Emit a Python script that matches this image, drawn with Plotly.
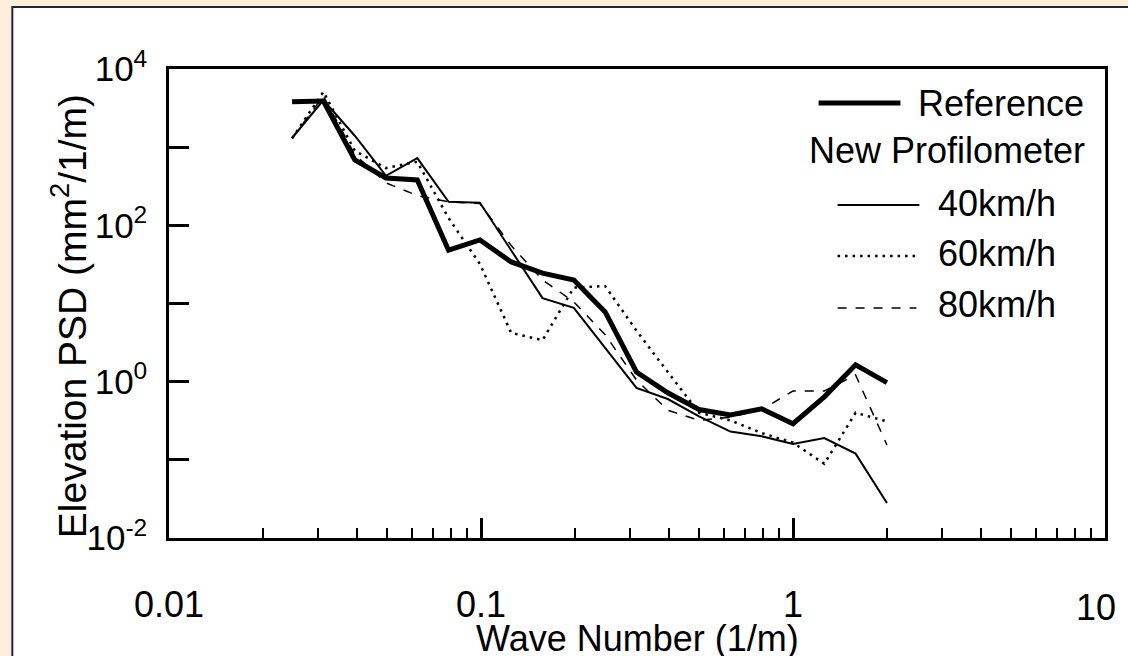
import plotly.graph_objects as go

# ---- data ----
wave_number = [0.0248, 0.03125, 0.0394, 0.0496, 0.0625, 0.0787, 0.0992, 0.125, 0.1575, 0.1984,
               0.25, 0.315, 0.3969, 0.5, 0.63, 0.7937, 1.0, 1.26, 1.587, 2.0]
psd_reference = [3800, 3900, 685, 404, 380, 48, 65, 34, 24.5, 20,
                 7.8, 1.33, 0.72, 0.44, 0.376, 0.45, 0.29, 0.64, 1.64, 0.97]
psd_40 = [1310, 4000, 1400, 430, 725, 200, 195, 48, 11.7, 8.8,
          2.7, 0.83, 0.6, 0.36, 0.23, 0.2, 0.16, 0.19, 0.12, 0.028]
psd_60 = [1300, 5100, 900, 540, 650, 124, 32, 4.2, 3.4, 16,
          16.7, 4.5, 1.33, 0.4, 0.32, 0.22, 0.166, 0.089, 0.4, 0.31]
psd_80 = [1300, 4500, 800, 350, 240, 200, 190, 55, 20, 10.5,
          4, 1.05, 0.43, 0.32, 0.35, 0.44, 0.76, 0.76, 1.22, 0.155]

x_tick_vals = [0.01, 0.1, 1]
x_tick_text = ["0.01", "0.1", "1"]
x_edge_label = "10"
x_minor_vals = [m * d for d in (0.01, 0.1, 1) for m in range(2, 10)]
y_tick_vals = [1e-2, 1e0, 1e2, 1e4]
y_tick_text = ["10<sup>-2</sup>", "10<sup>0</sup>", "10<sup>2</sup>", "10<sup>4</sup>"]
y_minor_vals = [1e-1, 1e1, 1e3]

FONT = "Liberation Sans, Arial, sans-serif"
W, H = 1120, 656
L, R, T, B = 169, 13, 69, 118
PW, PH = W - L - R, H - T - B


def px(xp):
    return (xp - L) / PW


def py(yp):
    return (H - B - yp) / PH


fig = go.Figure()
series = [
    ("Reference", psd_reference, dict(color="black", width=5)),
    ("40km/h", psd_40, dict(color="black", width=2)),
    ("60km/h", psd_60, dict(color="black", width=2.5, dash="2.5px,5px")),
    ("80km/h", psd_80, dict(color="black", width=1.5, dash="9px,9px")),
]
# thin lines first, thick reference on top
for name, ys, line in series[1:] + series[:1]:
    fig.add_trace(go.Scatter(x=wave_number, y=ys, mode="lines", name=name, line=line,
                             showlegend=False))

shapes = [
    dict(type="rect", xref="paper", yref="paper", x0=px(12), x1=px(1140), y0=py(670), y1=py(7),
         fillcolor="white", line=dict(color="#1c2640", width=2), layer="below"),
]
legend_rows = [
    (103, 820, 902, dict(color="black", width=5)),
    (205, 839, 921, dict(color="black", width=2)),
    (256, 839, 918, dict(color="black", width=2.5, dash="2.5px,5px")),
    (308, 839, 918, dict(color="black", width=1.5, dash="9px,9px")),
]
for yy, xa, xb, ln in legend_rows:
    shapes.append(dict(type="line", xref="paper", yref="paper", x0=px(xa), x1=px(xb),
                       y0=py(yy), y1=py(yy), line=ln))

annotations = [
    dict(text="Reference", x=px(918), y=py(103), xanchor="left", yanchor="middle", size=36),
    dict(text="New Profilometer", x=px(1089), y=py(150), xanchor="right", yanchor="middle", size=36),
    dict(text="40km/h", x=px(938), y=py(203), xanchor="left", yanchor="middle", size=36),
    dict(text="60km/h", x=px(938), y=py(254), xanchor="left", yanchor="middle", size=36),
    dict(text="80km/h", x=px(938), y=py(304), xanchor="left", yanchor="middle", size=36),
    dict(text=x_edge_label, x=px(1120), y=py(607), xanchor="right", yanchor="middle", size=36),
    dict(text="Wave Number (1/m)", x=px(638), y=py(638), xanchor="center", yanchor="middle", size=36),
    dict(text="Elevation PSD (mm<sup>2</sup>/1/m)", x=px(68), y=py(316), textangle=-90,
         xanchor="center", yanchor="middle", size=39),
]
for a in annotations:
    s = a.pop("size")
    a.update(xref="paper", yref="paper", showarrow=False, font=dict(family=FONT, size=s, color="black"))

fig.update_layout(
    width=W, height=H, autosize=False,
    margin=dict(l=L, r=R, t=T, b=B, pad=0),
    paper_bgcolor="#fdeedb",
    plot_bgcolor="white",
    shapes=shapes,
    annotations=annotations,
    font=dict(family=FONT, size=36, color="black"),
    showlegend=False,
)
fig.update_xaxes(
    type="log", range=[-2, 1],
    tickmode="array", tickvals=x_tick_vals, ticktext=x_tick_text,
    ticks="inside", ticklen=20, tickwidth=2.5, tickcolor="black",
    minor=dict(tickmode="array", tickvals=x_minor_vals, ticks="inside", ticklen=10,
               tickwidth=2, tickcolor="black", showgrid=False),
    showline=True, linecolor="black", linewidth=2.5, mirror=True,
    showgrid=False, zeroline=False,
    tickfont=dict(family=FONT, size=36, color="black"),
    ticklabelstandoff=33,
)
fig.update_yaxes(
    type="log", range=[-2, 4],
    tickmode="array", tickvals=y_tick_vals, ticktext=y_tick_text,
    ticks="inside", ticklen=20, tickwidth=2.5, tickcolor="black",
    minor=dict(tickmode="array", tickvals=y_minor_vals, ticks="inside", ticklen=20,
               tickwidth=2.5, tickcolor="black", showgrid=False),
    showline=True, linecolor="black", linewidth=2.5, mirror=True,
    showgrid=False, zeroline=False,
    tickfont=dict(family=FONT, size=35, color="black"),
    ticklabelstandoff=12,
)

fig.write_html(
    "out.html",
    config={"displayModeBar": False},
    post_script=(
        "document.body.style.margin='0';document.body.style.padding='0';"
        "document.body.style.background='linear-gradient(to bottom, #fdeedb 0px, #fdeedb 6px, "
        "#1c2640 6px, #1c2640 8px, #ffffff 8px, #ffffff 100%)';"
    ),
)
